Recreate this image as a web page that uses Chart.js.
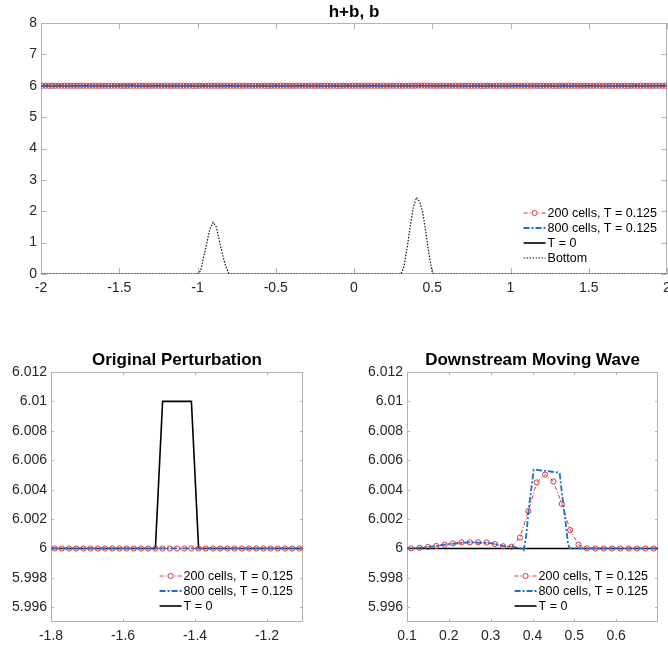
<!DOCTYPE html>
<html>
<head>
<meta charset="utf-8">
<script src="https://cdn.jsdelivr.net/npm/chart.js@4.4.1/dist/chart.umd.min.js"></script>
<style>
  html, body { margin: 0; padding: 0; background: #fff; }
  body { width: 668px; height: 650px; position: relative; overflow: hidden; }
  .panel { position: absolute; overflow: hidden; }
  canvas { display: block; }
</style>
</head>
<body>
<div class="panel" style="left:0;top:0;width:668px;height:300px;"><canvas id="top" width="690" height="300"></canvas></div>
<div class="panel" style="left:0;top:330px;width:334px;height:320px;"><canvas id="left" width="334" height="320"></canvas></div>
<div class="panel" style="left:334px;top:330px;width:334px;height:320px;"><canvas id="right" width="334" height="320"></canvas></div>
<script>
// tick labels
const xTicksTop = [-2, -1.5, -1, -0.5, 0, 0.5, 1, 1.5, 2];
const yTicksTop = [0, 1, 2, 3, 4, 5, 6, 7, 8];
const xTicksLeft = [-1.8, -1.6, -1.4, -1.2];
const xTicksRight = [0.1, 0.2, 0.3, 0.4, 0.5, 0.6];
const yTicksZoom = [5.996, 5.998, 6, 6.002, 6.004, 6.006, 6.008, 6.01, 6.012];

const seriesNames = ["200 cells, T = 0.125", "800 cells, T = 0.125", "T = 0", "Bottom"];

// still water level (h+b = 6 away from the waves)
const restLevel = 6;

// 200 cell solution, cell centres, readings of the downstream wave
const nCells200 = 200;
const waveX200 = [0.11, 0.13, 0.15, 0.17, 0.19, 0.21, 0.23, 0.25, 0.27, 0.29, 0.31,
  0.33, 0.35, 0.37, 0.39, 0.41, 0.43, 0.45, 0.47, 0.49, 0.51, 0.53];
const waveH200 = [6.00001, 6.00005, 6.0001, 6.00017, 6.00026, 6.00034, 6.00041, 6.00042,
  6.00042, 6.0004, 6.0003, 6.00015, 6.00012, 6.00074, 6.00254, 6.00449, 6.00502,
  6.00456, 6.00303, 6.00125, 6.00026, 6.00001];

// 800 cell solution, breakpoints of the line
const x800 = [-2, 0.1, 0.15, 0.2, 0.25, 0.3, 0.33, 0.36, 0.37, 0.379, 0.385, 0.391,
  0.399, 0.403, 0.43, 0.459, 0.465, 0.471, 0.479, 0.485, 0.489, 2];
const h800 = [6, 6, 6.0001, 6.0003, 6.00042, 6.00036, 6.00018, 6.00008, 6.00002, 5.99988,
  6.00088, 6.00269, 6.0045, 6.00536, 6.00528, 6.00517, 6.0051, 6.0036, 6.0018, 6.0003,
  6, 6];

// initial condition
const xT0 = [-2, -1.51, -1.49, -1.41, -1.39, 2];
const hT0 = [6, 6, 6.01, 6.01, 6, 6];

// bottom topography
const xBottom = [-2, -1.0, -0.98, -0.96, -0.94, -0.92, -0.9, -0.88, -0.86, -0.84, -0.82, -0.8, -0.79,
  0.3, 0.32, 0.34, 0.36, 0.38, 0.4, 0.42, 0.44, 0.46, 0.48, 0.5, 0.51, 2];
const bBottom = [0, 0, 0.1, 0.55, 1.0, 1.45, 1.65, 1.5, 1.05, 0.62, 0.25, 0.02, 0,
  0, 0.25, 0.85, 1.55, 2.15, 2.44, 2.3, 1.95, 1.3, 0.6, 0.05, 0, 0];

const RED = "#d8373c";
const BLUE = "#1a6fd6";
const TXT = "#262626";
const FONT = "'Liberation Sans', Arial, sans-serif";

const cells200 = [];
for (let i = 0; i < nCells200; i++) cells200.push(Math.round((-1.99 + 0.02 * i) * 1000) / 1000);
const h200 = cells200.map((x) => {
  const k = waveX200.indexOf(x);
  return k >= 0 ? waveH200[k] : restLevel;
});

const pts = (xs, ys) => xs.map((x, i) => ({ x, y: ys[i] }));

function buildDatasets(withBottom) {
  const sets = [
    {
      label: seriesNames[0], data: pts(cells200, h200), borderColor: RED, borderWidth: 1,
      borderDash: [4, 2, 1, 2], pointRadius: 2.6, pointBorderWidth: 1, pointBorderColor: RED,
      pointBackgroundColor: "rgba(0,0,0,0)", order: 2,
    },
    {
      label: seriesNames[1], data: pts(x800, h800), borderColor: BLUE, borderWidth: 1.8,
      borderDash: [6, 2, 2, 2], pointRadius: 0, order: 1,
    },
    {
      label: seriesNames[2], data: pts(xT0, hT0), borderColor: "#000", borderWidth: 1.6,
      pointRadius: 0, order: 3,
    },
  ];
  if (withBottom) {
    sets.push({
      label: seriesNames[3], data: pts(xBottom, bBottom), borderColor: "#111", borderWidth: 1.2,
      borderDash: [1.5, 1.5], pointRadius: 0, order: 0,
    });
  }
  return sets;
}

// box and inward ticks under the data, legend on top in the lower right corner
const matlabAxes = {
  id: "matlabAxes",
  beforeDatasetsDraw(chart, args, opts) {
    const { ctx, chartArea: a } = chart;
    const xs = chart.scales.x, ys = chart.scales.y;
    ctx.save();
    ctx.strokeStyle = "#b4b4b4";
    ctx.lineWidth = 1;
    ctx.setLineDash([]);
    ctx.strokeRect(a.left + 0.5, a.top + 0.5, a.right - a.left - 1, a.bottom - a.top - 1);
    ctx.beginPath();
    xs.ticks.forEach((t) => {
      const px = Math.round(xs.getPixelForValue(t.value)) + 0.5;
      ctx.moveTo(px, a.bottom); ctx.lineTo(px, a.bottom - opts.tickLen);
      ctx.moveTo(px, a.top); ctx.lineTo(px, a.top + opts.tickLen);
    });
    ys.ticks.forEach((t) => {
      const py = Math.round(ys.getPixelForValue(t.value)) + 0.5;
      ctx.moveTo(a.left, py); ctx.lineTo(a.left + opts.tickLen, py);
      ctx.moveTo(a.right, py); ctx.lineTo(a.right - opts.tickLen, py);
    });
    ctx.stroke();
    ctx.restore();
  },
  afterDraw(chart) {
    const { ctx, chartArea: a } = chart;
    const sets = chart.data.datasets;
    ctx.save();
    ctx.font = "12.5px " + FONT;
    const maxW = Math.max(...sets.map((d) => ctx.measureText(d.label).width));
    const x0 = a.right - 10 - maxW - 24;
    sets.forEach((d, i) => {
      const y = a.bottom - 16 - (sets.length - 1 - i) * 15;
      ctx.strokeStyle = d.borderColor;
      ctx.lineWidth = d.borderWidth;
      ctx.setLineDash(d.borderDash || []);
      ctx.beginPath();
      ctx.moveTo(x0, y); ctx.lineTo(x0 + 22, y);
      ctx.stroke();
      if (d.pointRadius) {
        ctx.setLineDash([]);
        ctx.lineWidth = 1;
        ctx.beginPath();
        ctx.arc(x0 + 11, y, d.pointRadius, 0, Math.PI * 2);
        ctx.fillStyle = "#fff";
        ctx.fill();
        ctx.stroke();
      }
      ctx.fillStyle = "#000";
      ctx.textBaseline = "middle";
      ctx.textAlign = "left";
      ctx.fillText(d.label, x0 + 24, y + 0.5);
    });
    ctx.restore();
  },
};

function makeChart(id, c) {
  return new Chart(document.getElementById(id), {
    type: "line",
    data: { datasets: buildDatasets(c.withBottom) },
    options: {
      responsive: false,
      animation: false,
      events: [],
      layout: { padding: { left: 0, right: c.padRight, top: 0, bottom: 0 } },
      scales: {
        x: {
          type: "linear", min: c.xMin, max: c.xMax,
          afterBuildTicks: (s) => { s.ticks = c.xTicks.map((v) => ({ value: v })); },
          afterFit: (s) => { s.height = c.xHeight; },
          grid: { display: false, drawTicks: false },
          border: { display: false },
          ticks: { padding: 6, color: TXT, font: { family: FONT, size: 14 }, maxRotation: 0, autoSkip: false, callback: (v) => String(v) },
        },
        y: {
          type: "linear", min: c.yMin, max: c.yMax,
          afterBuildTicks: (s) => { s.ticks = c.yTicks.map((v) => ({ value: v })); },
          afterFit: (s) => { s.width = c.yWidth; },
          grid: { display: false, drawTicks: false },
          border: { display: false },
          ticks: { padding: 4, color: TXT, font: { family: FONT, size: 14 }, autoSkip: false, callback: (v) => String(v) },
        },
      },
      plugins: {
        legend: { display: false },
        tooltip: { enabled: false },
        title: {
          display: true, text: c.title, fullSize: false, color: "#000",
          font: { family: FONT, size: 17, weight: "bold" },
          padding: c.titlePad,
        },
        matlabAxes: { tickLen: c.tickLen },
      },
    },
    plugins: [matlabAxes],
  });
}

makeChart("top", {
  title: "h+b, b", withBottom: true,
  xMin: -2, xMax: 2, xTicks: xTicksTop, yMin: 0, yMax: 8, yTicks: yTicksTop,
  yWidth: 41, xHeight: 26, padRight: 23, titlePad: { top: 2.5, bottom: 0.1 }, tickLen: 6,
});
makeChart("left", {
  title: "Original Perturbation", withBottom: false,
  xMin: -1.8, xMax: -1.1, xTicks: xTicksLeft, yMin: 5.995, yMax: 6.012, yTicks: yTicksZoom,
  yWidth: 51, xHeight: 28, padRight: 31, titlePad: { top: 20, bottom: 1.6 }, tickLen: 3,
});
makeChart("right", {
  title: "Downstream Moving Wave", withBottom: false,
  xMin: 0.1, xMax: 0.7, xTicks: xTicksRight, yMin: 5.995, yMax: 6.012, yTicks: yTicksZoom,
  yWidth: 73, xHeight: 28, padRight: 10, titlePad: { top: 20, bottom: 1.6 }, tickLen: 3,
});
</script>
</body>
</html>
